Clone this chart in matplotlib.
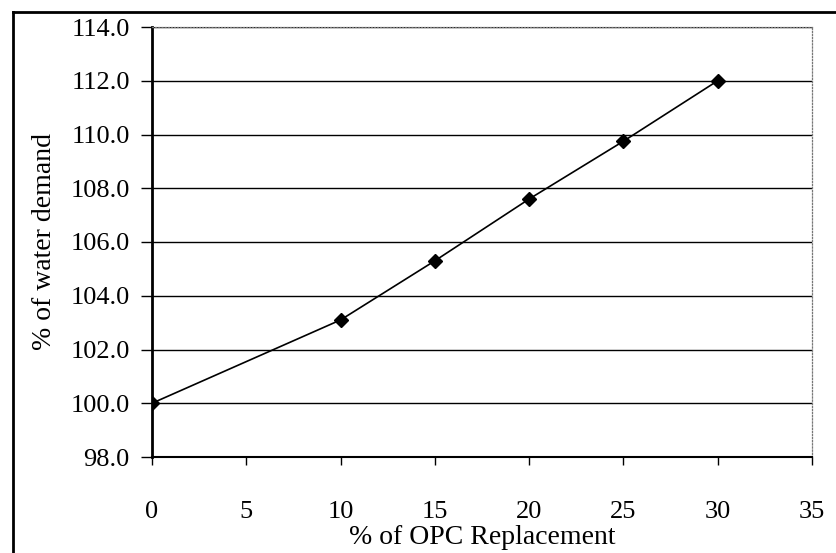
import matplotlib.pyplot as plt
from matplotlib.lines import Line2D

# data
replacement = [0, 10, 15, 20, 25, 30]
water_demand = [100.0, 103.1, 105.3, 107.6, 109.75, 112.0]

x_ticks = [0, 5, 10, 15, 20, 25, 30, 35]
y_ticks = [98, 100, 102, 104, 106, 108, 110, 112, 114]

plt.rcParams['font.family'] = ['Liberation Serif', 'DejaVu Serif']

fig = plt.figure(figsize=(8.37, 5.53), dpi=100)
ax = fig.add_axes([152 / 837, 1 - 457 / 553, 660 / 837, 430 / 553])

ax.plot(replacement, water_demand, color='black', linewidth=1.2,
        marker='D', markersize=7, markerfacecolor='black', zorder=3)

ax.set_xlim(0, 35)
ax.set_ylim(98, 114)
ax.set_xticks(x_ticks)
ax.set_yticks(y_ticks)
ax.set_yticklabels([f"{v:.1f}" for v in y_ticks])

ax.grid(axis='y', color='black', linewidth=1.0)
ax.set_axisbelow(True)

# spines: solid left/bottom, dotted grey top/right
ax.spines['left'].set_linewidth(2.0)
ax.spines['bottom'].set_linewidth(1.5)
for side in ['top', 'right']:
    ax.spines[side].set_linestyle((0, (1, 1.5)))
    ax.spines[side].set_color('#777777')
    ax.spines[side].set_linewidth(0.9)

ax.tick_params(axis='y', direction='out', length=8, width=1, pad=8, labelsize=19)
ax.tick_params(axis='x', direction='out', length=6, width=1, pad=26, labelsize=19)

ax.set_xlabel('% of OPC Replacement', fontsize=20, labelpad=1)
ax.set_ylabel('% of water demand', fontsize=20, labelpad=10)

# outer frame of the figure (top and left edges)
fig.add_artist(Line2D([13 / 837, 1.0], [1 - 12 / 553, 1 - 12 / 553],
                      transform=fig.transFigure, color='black', linewidth=2))
fig.add_artist(Line2D([13 / 837, 13 / 837], [0.0, 1 - 12 / 553],
                      transform=fig.transFigure, color='black', linewidth=2))

fig.savefig('out.png', dpi=100)
